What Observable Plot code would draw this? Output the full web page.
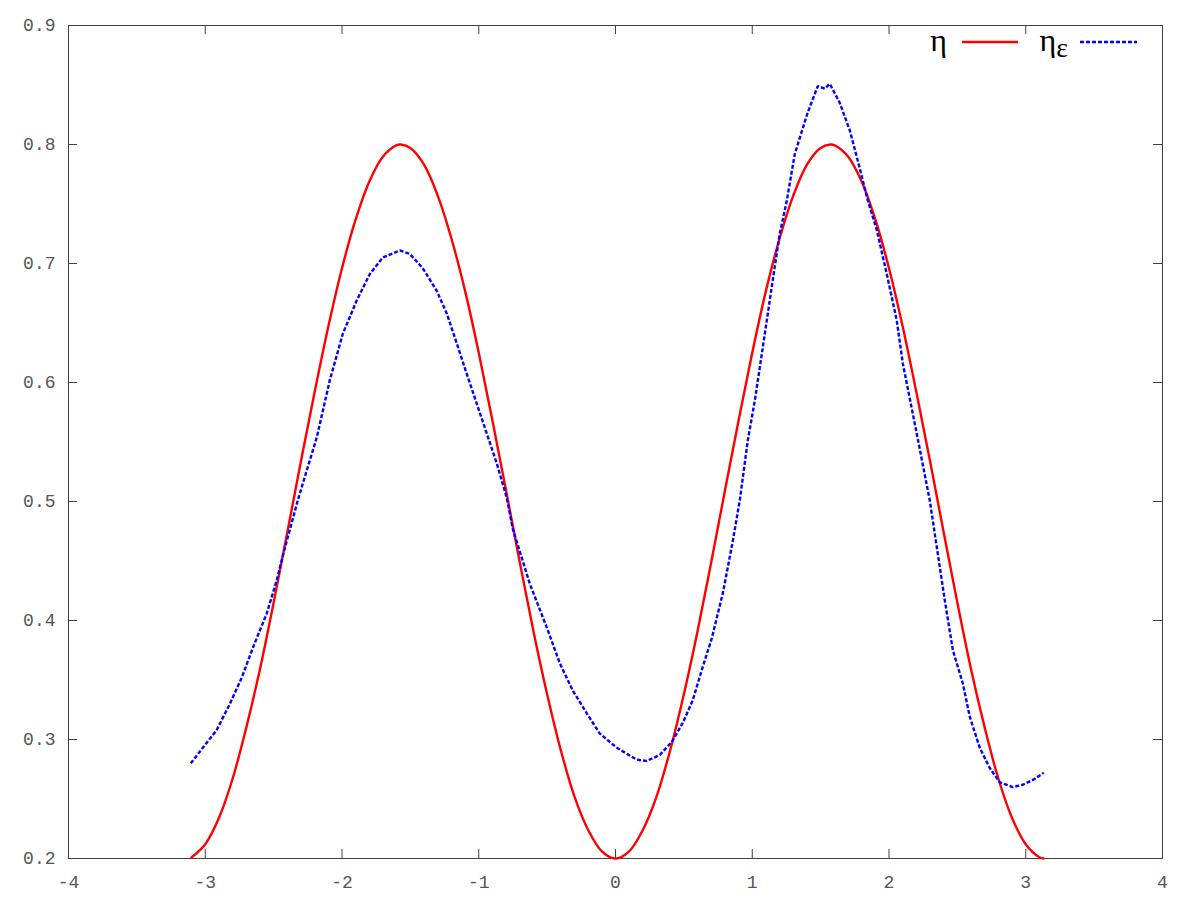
<!DOCTYPE html>
<html>
<head>
<meta charset="utf-8">
<script src="https://cdn.jsdelivr.net/npm/d3@7"></script>
<script src="https://cdn.jsdelivr.net/npm/@observablehq/plot@0.6"></script>
<style>
  html, body { margin: 0; padding: 0; background: #fff; }
  #chart svg { display: block; }
</style>
</head>
<body>
<div id="chart"></div>
<script>
// ---- tick values ----
const xTicks = [-4, -3, -2, -1, 0, 1, 2, 3, 4];
const yTicks = [0.2, 0.3, 0.4, 0.5, 0.6, 0.7, 0.8, 0.9];

// ---- series η (solid red) ----
const etaX = [-3.1, -3.0, -2.9, -2.8, -2.7, -2.6, -2.5, -2.4, -2.3, -2.2, -2.1, -2.0, -1.9, -1.8, -1.7, -1.6, -1.57, -1.5, -1.4, -1.3, -1.2, -1.1, -1.0, -0.9, -0.8, -0.7, -0.6, -0.5, -0.4, -0.3, -0.2, -0.1, 0.0,
  0.1, 0.2, 0.3, 0.4, 0.5, 0.6, 0.7, 0.8, 0.9, 1.0, 1.1, 1.2, 1.3, 1.4, 1.5, 1.57, 1.6, 1.7, 1.8, 1.9, 2.0, 2.1, 2.2, 2.3, 2.4, 2.5, 2.6, 2.7, 2.8, 2.9, 3.0, 3.1, 3.13];
const etaY = [0.201, 0.212, 0.234, 0.267, 0.310, 0.359, 0.415, 0.474, 0.534, 0.592, 0.647, 0.696, 0.737, 0.769, 0.790, 0.7995, 0.800, 0.797, 0.783, 0.757, 0.721, 0.677, 0.625, 0.568, 0.509, 0.449, 0.391, 0.338, 0.291, 0.252, 0.224, 0.206, 0.200,
  0.206, 0.224, 0.252, 0.291, 0.338, 0.391, 0.449, 0.509, 0.568, 0.625, 0.677, 0.721, 0.757, 0.783, 0.797, 0.800, 0.7995, 0.790, 0.769, 0.737, 0.696, 0.647, 0.592, 0.534, 0.474, 0.415, 0.359, 0.310, 0.267, 0.234, 0.212, 0.201, 0.200];

// ---- series η_ε (dashed blue) ----
const epsX = [-3.106, -3.018, -2.916, -2.820, -2.733, -2.652, -2.550, -2.477, -2.418, -2.382, -2.323, -2.287, -2.184, -2.089, -1.994, -1.892, -1.797, -1.702, -1.577, -1.504, -1.409, -1.307, -1.234, -1.161, -1.087, -1.014, -0.941, -0.868, -0.795, -0.751,
  -0.627, -0.502, -0.407, -0.312, -0.210, -0.115, 0.010, 0.156, 0.229, 0.324, 0.412, 0.492, 0.565, 0.638, 0.704, 0.785, 0.858, 0.909, 0.967, 1.019, 1.070, 1.114, 1.150, 1.201, 1.253, 1.311, 1.406, 1.479, 1.531, 1.567,
  1.640, 1.713, 1.786, 1.845, 1.911, 1.984, 2.057, 2.101, 2.203, 2.298, 2.408, 2.467, 2.540, 2.591, 2.664, 2.737, 2.810, 2.905, 2.978, 3.052, 3.132];
const epsY = [0.280, 0.293, 0.308, 0.330, 0.352, 0.377, 0.406, 0.434, 0.461, 0.476, 0.501, 0.515, 0.554, 0.602, 0.641, 0.669, 0.691, 0.705, 0.711, 0.708, 0.696, 0.677, 0.658, 0.633, 0.607, 0.582, 0.557, 0.532, 0.503, 0.477,
  0.431, 0.394, 0.364, 0.341, 0.322, 0.305, 0.293, 0.283, 0.282, 0.287, 0.298, 0.314, 0.333, 0.361, 0.385, 0.423, 0.467, 0.501, 0.551, 0.585, 0.624, 0.658, 0.686, 0.725, 0.753, 0.792, 0.827, 0.849, 0.847, 0.851,
  0.835, 0.812, 0.780, 0.753, 0.728, 0.691, 0.652, 0.616, 0.557, 0.501, 0.417, 0.375, 0.347, 0.319, 0.293, 0.276, 0.264, 0.260, 0.262, 0.266, 0.272];

// ---- legend ----
const legendNames = ["η", "η", "ε"];

const eta = etaX.map((x, i) => ({x, y: etaY[i]}));
const eps = epsX.map((x, i) => ({x, y: epsY[i]}));

const W = 1200, H = 900;
const M = {top: 25, right: 38, bottom: 42, left: 68};
const TICK = 9;
const AXIS = "#404040";
const LABEL = "#555555";
const RED = "#ff0000", BLUE = "#0000ff";
const DASH = "4,2";

function legendMark(index, scales, values, dims) {
  const right = dims.width - dims.marginRight;
  const top = dims.marginTop;
  const g = d3.create("svg:g")
    .attr("font-family", "'Liberation Serif', 'DejaVu Serif', serif")
    .attr("fill", "#000");
  // entry 1: η, solid red
  g.append("text").attr("x", right - 215).attr("y", top + 26)
    .attr("text-anchor", "end").attr("font-size", 32).text(legendNames[0]);
  g.append("line").attr("x1", right - 200).attr("x2", right - 144)
    .attr("y1", top + 17).attr("y2", top + 17)
    .attr("stroke", RED).attr("stroke-width", 2.4);
  // entry 2: η_ε, dashed blue
  const t = g.append("text").attr("x", right - 94).attr("y", top + 26)
    .attr("text-anchor", "end").attr("font-size", 32);
  t.append("tspan").text(legendNames[1]);
  t.append("tspan").attr("font-size", 28).attr("dy", 6).text(legendNames[2]);
  g.append("line").attr("x1", right - 82).attr("x2", right - 25)
    .attr("y1", top + 17).attr("y2", top + 17)
    .attr("stroke", BLUE).attr("stroke-width", 2.4)
    .attr("stroke-dasharray", DASH);
  return g.node();
}

const frameH = H - M.top - M.bottom;
const frameW = W - M.left - M.right;

const chart = Plot.plot({
  width: W,
  height: H,
  marginTop: M.top,
  marginRight: M.right,
  marginBottom: M.bottom,
  marginLeft: M.left,
  style: {fontFamily: "'Liberation Mono', 'DejaVu Sans Mono', monospace", fontSize: "18px", color: AXIS, background: "#fff"},
  x: {domain: [-4, 4], label: null},
  y: {domain: [0.2, 0.9], label: null},
  marks: [
    // inward ticks on all four sides (mirrored, gnuplot style)
    Plot.tickX(xTicks, {x: d => d, insetTop: frameH - TICK, stroke: AXIS}),
    Plot.tickX(xTicks, {x: d => d, insetBottom: frameH - TICK, stroke: AXIS}),
    Plot.tickY(yTicks, {y: d => d, insetRight: frameW - TICK, stroke: AXIS}),
    Plot.tickY(yTicks, {y: d => d, insetLeft: frameW - TICK, stroke: AXIS}),
    Plot.axisX(xTicks, {tickSize: 0, tickPadding: 17, tickFormat: d => String(d), fontSize: 18, letterSpacing: "1.5px", fill: LABEL}),
    Plot.axisY(yTicks, {tickSize: 0, tickPadding: 13, tickFormat: d => d.toFixed(1), fontSize: 18, fill: LABEL}),
    Plot.frame({stroke: AXIS, strokeWidth: 1}),
    Plot.line(eta, {x: "x", y: "y", stroke: RED, strokeWidth: 2.4, curve: "catmull-rom"}),
    Plot.line(eps, {x: "x", y: "y", stroke: BLUE, strokeWidth: 2.4, strokeDasharray: DASH, strokeLinecap: "butt", strokeLinejoin: "miter"}),
    legendMark
  ]
});
document.getElementById("chart").appendChild(chart);
</script>
</body>
</html>
